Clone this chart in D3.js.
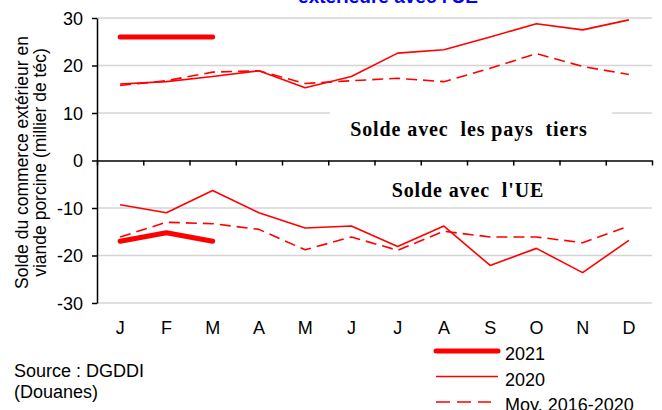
<!DOCTYPE html>
<html>
<head>
<meta charset="utf-8">
<script src="https://cdn.jsdelivr.net/npm/d3@7"></script>
<style>
  body { margin: 0; background: #fff; }
  svg { display: block; font-family: "Liberation Sans", Arial, sans-serif; }
</style>
</head>
<body>
<div id="chart"></div>
<script>
const months = ["J", "F", "M", "A", "M", "J", "J", "A", "S", "O", "N", "D"];

// solde avec les pays tiers
const tiers2021 = [26, 26, 26];
const tiers2020 = [16.1, 16.6, 17.7, 18.9, 15.3, 17.7, 22.6, 23.3, 26.0, 28.8, 27.5, 29.6];
const tiersMoy = [15.8, 16.8, 18.6, 18.9, 16.2, 16.8, 17.3, 16.6, 19.4, 22.5, 19.8, 18.1];

// solde avec l'UE
const ue2021 = [-17.0, -15.2, -17.0];
const ue2020 = [-9.3, -11.0, -6.3, -11.0, -14.2, -13.8, -18.1, -13.8, -22.1, -18.5, -23.6, -16.8];
const ueMoy = [-16.1, -13.0, -13.3, -14.5, -18.8, -16.1, -18.9, -14.9, -16.1, -16.1, -17.3, -13.8];

const yTicks = [-30, -20, -10, 0, 10, 20, 30];

const width = 662, height = 410;
const marginLeft = 97, marginRight = 10, marginTop = 18, marginBottom = 107;

const svg = d3.select("#chart").append("svg")
    .attr("width", width)
    .attr("height", height)
    .attr("viewBox", [0, 0, width, height]);

const x = d3.scaleBand()
    .domain(d3.range(months.length))
    .range([marginLeft, width - marginRight]);
const xEdge = d3.scaleLinear()
    .domain([0, months.length])
    .range([marginLeft, width - marginRight]);
const y = d3.scaleLinear()
    .domain([-30, 30])
    .range([height - marginBottom, marginTop]);

const xc = i => x(i) + x.bandwidth() / 2;

// title (cut off at the top)
svg.append("text")
    .attr("x", 388)
    .attr("y", 3)
    .attr("text-anchor", "middle")
    .attr("fill", "#0000ff")
    .attr("font-weight", "bold")
    .attr("font-size", 19)
    .text("extérieure avec l'UE");

// grid
svg.append("g")
    .selectAll("line")
    .data(yTicks.filter(d => d !== 0))
    .join("line")
    .attr("x1", marginLeft)
    .attr("x2", width - marginRight)
    .attr("y1", d => y(d))
    .attr("y2", d => y(d))
    .attr("stroke", "#d4d4d4")
    .attr("stroke-width", 1.5);

// white box behind the "pays tiers" label
svg.append("rect")
    .attr("x", 330)
    .attr("y", y(12.5))
    .attr("width", 282)
    .attr("height", y(3) - y(12.5))
    .attr("fill", "#fff");

// y axis
svg.append("g")
    .attr("transform", `translate(${marginLeft},0)`)
    .call(d3.axisLeft(y).tickValues(yTicks).tickSize(5).tickSizeOuter(0).tickPadding(9)
        .tickFormat(d => String(d)))
    .call(g => g.select(".domain").attr("stroke-width", 1.5))
    .call(g => g.selectAll(".tick line").attr("stroke-width", 1.5))
    .call(g => g.selectAll(".tick text")
        .attr("font-size", 18)
        .attr("font-family", "Liberation Sans, Arial, sans-serif")
        .attr("fill", "#000")
        .attr("dy", "0.35em"));

// zero line with category ticks
svg.append("g")
    .attr("transform", `translate(0,${y(0)})`)
    .call(d3.axisBottom(xEdge).tickValues(d3.range(months.length + 1)).tickSize(5).tickSizeOuter(0).tickFormat(""))
    .call(g => g.select(".domain").attr("stroke-width", 1.5))
    .call(g => g.selectAll(".tick line").attr("stroke-width", 1.5));

// month labels
svg.append("g")
    .attr("transform", `translate(0,${y(-30)})`)
    .call(d3.axisBottom(x).tickSize(0).tickPadding(18).tickFormat(i => months[i]))
    .call(g => g.select(".domain").remove())
    .call(g => g.selectAll(".tick text")
        .attr("font-size", 18)
        .attr("font-family", "Liberation Sans, Arial, sans-serif")
        .attr("fill", "#000"));

// y axis title
const yTitle = svg.append("text")
    .attr("transform", `translate(28,${(marginTop + y(-30)) / 2 + 2}) rotate(-90)`)
    .attr("text-anchor", "middle")
    .attr("font-size", 17.5)
    .attr("fill", "#000");
yTitle.append("tspan").attr("x", 0).attr("dy", 0).text("Solde du commerce extérieur en");
yTitle.append("tspan").attr("x", 0).attr("dy", 18).text("viande porcine (millier de téc)");

// series
const line = d3.line()
    .x((d, i) => xc(i))
    .y(d => y(d));

const series = [
    { values: tiersMoy, width: 1.6, dash: "11,6" },
    { values: ueMoy, width: 1.6, dash: "11,6" },
    { values: tiers2020, width: 1.6, dash: null },
    { values: ue2020, width: 1.6, dash: null },
    { values: tiers2021, width: 5, dash: null },
    { values: ue2021, width: 5, dash: null },
];

svg.append("g")
    .selectAll("path")
    .data(series)
    .join("path")
    .attr("fill", "none")
    .attr("stroke", "#ff0000")
    .attr("stroke-width", d => d.width)
    .attr("stroke-dasharray", d => d.dash)
    .attr("stroke-linecap", d => d.width > 3 ? "round" : "butt")
    .attr("stroke-linejoin", "round")
    .attr("d", d => line(d.values));

// panel labels
svg.append("text")
    .attr("x", 469)
    .attr("y", y(5.2))
    .attr("text-anchor", "middle")
    .attr("font-family", "Liberation Serif, Times New Roman, serif")
    .attr("font-weight", "bold")
    .attr("font-size", 20)
    .attr("letter-spacing", 0.9)
    .style("white-space", "pre")
    .text("Solde avec  les pays  tiers");

svg.append("text")
    .attr("x", 468)
    .attr("y", y(-7.7))
    .attr("text-anchor", "middle")
    .attr("font-family", "Liberation Serif, Times New Roman, serif")
    .attr("font-weight", "bold")
    .attr("font-size", 20)
    .attr("letter-spacing", 0.9)
    .style("white-space", "pre")
    .text("Solde avec  l'UE");

// source
svg.append("text")
    .attr("x", 14)
    .attr("y", 377)
    .attr("font-size", 18)
    .text("Source : DGDDI");
svg.append("text")
    .attr("x", 14)
    .attr("y", 398)
    .attr("font-size", 18)
    .text("(Douanes)");

// legend
const legendItems = [
    { label: "2021", width: 5, dash: null, cap: "round", len: 62 },
    { label: "2020", width: 1.6, dash: null, cap: "butt", len: 62 },
    { label: "Moy. 2016-2020", width: 1.6, dash: "14,7", cap: "butt", len: 55 },
];

const legend = svg.append("g")
    .selectAll("g")
    .data(legendItems)
    .join("g")
    .attr("transform", (d, i) => `translate(436,${351 + i * 25.5})`);

legend.append("line")
    .attr("x1", 0)
    .attr("x2", d => d.len)
    .attr("stroke", "#ff0000")
    .attr("stroke-width", d => d.width)
    .attr("stroke-dasharray", d => d.dash)
    .attr("stroke-linecap", d => d.cap);

legend.append("text")
    .attr("x", 69)
    .attr("y", 9)
    .attr("font-size", 18)
    .text(d => d.label);
</script>
</body>
</html>
